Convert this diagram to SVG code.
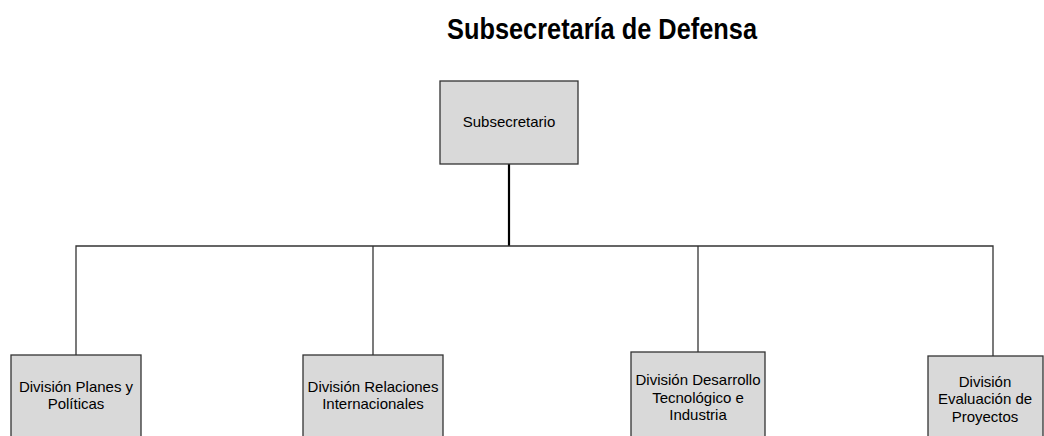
<svg xmlns="http://www.w3.org/2000/svg" width="1044" height="436" viewBox="0 0 1044 436">
<style>
.box{fill:#d9d9d9;stroke:#333;stroke-width:1.3}
.lbl{font-family:"Liberation Sans",Arial,sans-serif;font-size:15px;fill:#000;text-anchor:middle}
.ln{fill:none;stroke:#333;stroke-width:1.3}
.title{font-family:"Liberation Sans",Arial,sans-serif;font-size:30px;font-weight:bold;fill:#000;text-anchor:middle}
</style>
<rect width="1044" height="436" fill="#fff"/>
<text class="title" x="602" y="39" textLength="310" lengthAdjust="spacingAndGlyphs">Subsecretaría de Defensa</text>
<g id="connectors">
<line x1="509" y1="164" x2="509" y2="246" stroke="#000" stroke-width="2.2"/>
<polyline class="ln" points="76,355 76,246 993,246 993,356"/>
<line class="ln" x1="373" y1="246" x2="373" y2="355"/>
<line class="ln" x1="698" y1="246" x2="698" y2="352"/>
</g>
<g id="subsecretario">
<rect class="box" x="440" y="81" width="138" height="83"/>
<text class="lbl" x="509" y="127">Subsecretario</text>
</g>
<g id="planes">
<rect class="box" x="11" y="355" width="130" height="90"/>
<text class="lbl" x="76" y="392">División Planes y</text>
<text class="lbl" x="76" y="409">Políticas</text>
</g>
<g id="relaciones">
<rect class="box" x="303" y="355" width="140" height="90"/>
<text class="lbl" x="373" y="392">División Relaciones</text>
<text class="lbl" x="373" y="409">Internacionales</text>
</g>
<g id="desarrollo">
<rect class="box" x="631" y="352" width="134" height="93"/>
<text class="lbl" x="698" y="385">División Desarrollo</text>
<text class="lbl" x="698" y="403">Tecnológico e</text>
<text class="lbl" x="698" y="420">Industria</text>
</g>
<g id="evaluacion">
<rect class="box" x="928" y="356" width="115" height="89"/>
<text class="lbl" x="985" y="387">División</text>
<text class="lbl" x="985" y="404">Evaluación de</text>
<text class="lbl" x="985" y="422">Proyectos</text>
</g>
</svg>
